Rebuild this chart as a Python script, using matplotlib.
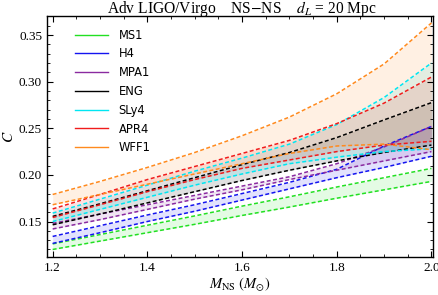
import matplotlib
matplotlib.use("Agg")
import matplotlib.pyplot as plt
import numpy as np

# NS mass grid (M_sun)
mass = [1.2, 1.3, 1.4, 1.5, 1.6, 1.7, 1.8, 1.9, 2.0]

eos_names = ['MS1', 'H4', 'MPA1', 'ENG', 'SLy4', 'APR4', 'WFF1']
eos_colors = ['#22e022', '#1414f0', '#8a2aa0', '#000000', '#00e6f2', '#f01c1c', '#ff8a1e']

# lower / upper compactness bounds for each EOS
ms1_lo = [0.120, 0.129, 0.138, 0.147, 0.1565, 0.1655, 0.175, 0.184, 0.193]
ms1_hi = [0.126, 0.136, 0.146, 0.156, 0.1665, 0.1765, 0.187, 0.197, 0.207]
h4_lo = [0.1265, 0.138, 0.150, 0.161, 0.173, 0.185, 0.197, 0.208, 0.220]
h4_hi = [0.134, 0.1455, 0.157, 0.168, 0.180, 0.192, 0.206, 0.231, 0.252]
mpa1_lo = [0.142, 0.152, 0.163, 0.174, 0.184, 0.195, 0.205, 0.215, 0.225]
mpa1_hi = [0.148, 0.158, 0.168, 0.178, 0.188, 0.198, 0.212, 0.230, 0.252]
eng_lo = [0.1465, 0.158, 0.170, 0.182, 0.194, 0.205, 0.215, 0.224, 0.232]
eng_hi = [0.1555, 0.169, 0.183, 0.197, 0.211, 0.224, 0.240, 0.259, 0.2775]
sly4_lo = [0.150, 0.163, 0.176, 0.189, 0.201, 0.212, 0.219, 0.225, 0.228]
sly4_hi = [0.159, 0.174, 0.189, 0.204, 0.218, 0.233, 0.254, 0.283, 0.320]
apr4_lo = [0.1543, 0.168, 0.182, 0.195, 0.207, 0.216, 0.225, 0.232, 0.236]
apr4_hi = [0.1635, 0.179, 0.195, 0.209, 0.223, 0.237, 0.255, 0.277, 0.305]
wff1_lo = [0.168, 0.179, 0.190, 0.201, 0.212, 0.223, 0.231, 0.233, 0.227]
wff1_hi = [0.179, 0.193, 0.208, 0.224, 0.242, 0.262, 0.287, 0.319, 0.363]

lows = [ms1_lo, h4_lo, mpa1_lo, eng_lo, sly4_lo, apr4_lo, wff1_lo]
highs = [ms1_hi, h4_hi, mpa1_hi, eng_hi, sly4_hi, apr4_hi, wff1_hi]

serif = ['Liberation Serif', 'DejaVu Serif']
plt.rcParams['mathtext.fontset'] = 'stix'

fig = plt.figure(figsize=(4.39, 2.95), dpi=100)
ax = fig.add_axes([0.107, 0.129, 0.879, 0.817])

for name, col, lo, hi in zip(eos_names, eos_colors, lows, highs):
    ax.fill_between(mass, lo, hi, color=col, alpha=0.12, linewidth=0)
    ax.plot(mass, lo, color=col, lw=1.1, ls=(0, (2.6, 1.6)))
    ax.plot(mass, hi, color=col, lw=1.1, ls=(0, (2.6, 1.6)))
    ax.plot([], [], color=col, lw=1.0, label=name)

ax.set_xlim(1.188, 2.003)
ax.set_ylim(0.112, 0.3705)
ax.set_xticks(np.arange(1.2, 2.01, 0.2))
ax.set_xticks(np.arange(1.2, 2.01, 0.05), minor=True)
ax.set_yticks(np.arange(0.15, 0.36, 0.05))
ax.set_yticks(np.arange(0.12, 0.37, 0.01), minor=True)
ax.xaxis.set_major_formatter(plt.FuncFormatter(lambda v, p: f'{v:.1f}'))
ax.yaxis.set_major_formatter(plt.FuncFormatter(lambda v, p: f'{v:.2f}'))
ax.tick_params(which='both', direction='in', top=True, right=True)
ax.tick_params(which='major', length=4, width=0.8)
ax.tick_params(which='minor', length=2, width=0.6)
for lab in ax.get_xticklabels() + ax.get_yticklabels():
    lab.set_family(serif)
    lab.set_fontsize(9.5)
for sp in ax.spines.values():
    sp.set_linewidth(1.0)

ax.set_xlabel(r'$M_{\rm NS}\ (M_{\odot})$', fontsize=10.5, labelpad=1)
ax.set_ylabel(r'$C$', fontsize=11, labelpad=2)
fig.text(0.55, 0.955, r'Adv LIGO/Virgo    NS$-$NS    $d_L$ = 20 Mpc', family=serif,
         fontsize=11.2, ha='center', va='baseline')

leg = ax.legend(loc='upper left', frameon=False, fontsize=8.3, handlelength=2.9,
                handletextpad=0.9, labelspacing=0.5, bbox_to_anchor=(0.045, 0.99))

fig.savefig('out.png', dpi=100)
